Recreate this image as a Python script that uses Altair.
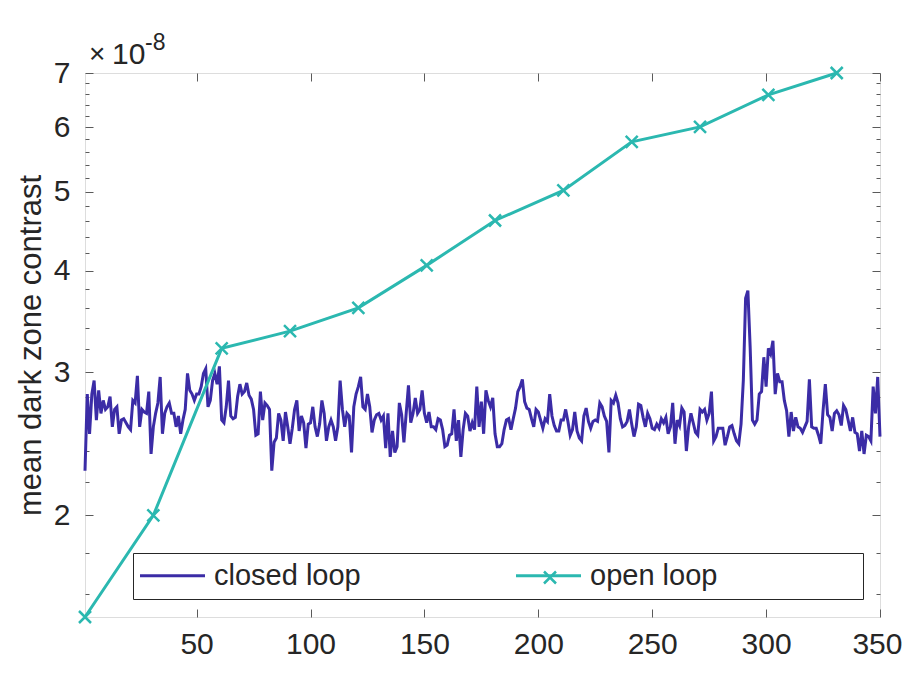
import altair as alt
import pandas as pd

# ---- data (values in units of 1e-8) ----
closed_loop = [
    # 1-60
    2.27, 2.82, 2.52, 2.82, 2.93, 2.62, 2.85, 2.67, 2.77, 2.70,
    2.72, 2.80, 2.57, 2.70, 2.72, 2.52, 2.62, 2.63, 2.60, 2.57,
    2.55, 2.77, 2.75, 2.97, 2.57, 2.70, 2.68, 2.67, 2.84, 2.38,
    2.57, 2.67, 2.75, 2.96, 2.52, 2.67, 2.72, 2.75, 2.67, 2.67,
    2.57, 2.65, 2.52, 2.62, 2.70, 2.99, 2.85, 2.82, 2.77, 2.82,
    2.82, 2.88, 2.99, 3.03, 2.72, 2.77, 2.93, 2.99, 2.90, 3.05,
    # 61-120
    2.62, 2.60, 2.72, 2.93, 2.65, 2.63, 2.64, 2.80, 2.90, 2.82,
    2.84, 2.91, 2.81, 2.78, 2.70, 2.51, 2.52, 2.84, 2.62, 2.75,
    2.73, 2.70, 2.27, 2.46, 2.49, 2.67, 2.62, 2.47, 2.68, 2.57,
    2.45, 2.56, 2.70, 2.77, 2.54, 2.65, 2.60, 2.42, 2.59, 2.60,
    2.72, 2.57, 2.50, 2.59, 2.77, 2.67, 2.47, 2.57, 2.62, 2.57,
    2.47, 2.57, 2.93, 2.70, 2.57, 2.67, 2.65, 2.39, 2.72, 2.82,
    # 121-180
    2.88, 2.96, 2.72, 2.70, 2.82, 2.72, 2.53, 2.62, 2.66, 2.67,
    2.62, 2.65, 2.42, 2.67, 2.36, 2.54, 2.39, 2.43, 2.75, 2.66,
    2.46, 2.67, 2.89, 2.60, 2.67, 2.79, 2.67, 2.70, 2.85, 2.67,
    2.60, 2.68, 2.57, 2.57, 2.55, 2.63, 2.62, 2.55, 2.43, 2.44,
    2.51, 2.52, 2.70, 2.47, 2.62, 2.36, 2.55, 2.67, 2.65, 2.54,
    2.60, 2.55, 2.88, 2.57, 2.76, 2.52, 2.85, 2.77, 2.72, 2.79,
    # 181-240
    2.52, 2.43, 2.43, 2.45, 2.55, 2.62, 2.63, 2.55, 2.63, 2.71,
    2.84, 2.88, 2.94, 2.76, 2.71, 2.70, 2.63, 2.57, 2.70, 2.68,
    2.62, 2.56, 2.63, 2.61, 2.82, 2.65, 2.58, 2.54, 2.54, 2.62,
    2.62, 2.70, 2.61, 2.51, 2.55, 2.68, 2.54, 2.49, 2.47, 2.65,
    2.71, 2.61, 2.56, 2.61, 2.62, 2.61, 2.75, 2.72, 2.65, 2.61,
    2.39, 2.77, 2.75, 2.81, 2.75, 2.63, 2.57, 2.58, 2.61, 2.70,
    # 241-299
    2.59, 2.50, 2.57, 2.74, 2.73, 2.64, 2.57, 2.67, 2.63, 2.56,
    2.55, 2.59, 2.56, 2.63, 2.60, 2.64, 2.52, 2.57, 2.75, 2.45,
    2.62, 2.58, 2.71, 2.68, 2.40, 2.57, 2.67, 2.60, 2.53, 2.51,
    2.70, 2.68, 2.70, 2.62, 2.67, 2.84, 2.47, 2.50, 2.56, 2.56,
    2.56, 2.44, 2.50, 2.57, 2.58, 2.52, 2.47, 2.45, 2.59, 2.93,
    3.70, 3.78, 3.22, 2.62, 2.59, 2.62, 2.82, 2.84, 3.13,
    # 300-350
    2.88, 3.21, 3.16, 3.28, 2.82, 2.99, 2.92, 2.92, 2.77, 2.69,
    2.50, 2.68, 2.54, 2.64, 2.57, 2.56, 2.53, 2.57, 2.61, 2.94,
    2.57, 2.56, 2.56, 2.51, 2.45, 2.69, 2.90, 2.66, 2.64, 2.54,
    2.67, 2.69, 2.66, 2.58, 2.73, 2.70, 2.62, 2.54, 2.64, 2.53,
    2.52, 2.40, 2.54, 2.38, 2.51, 2.50, 2.47, 2.88, 2.67, 2.96,
    2.50,
]
open_x = [1, 31, 61, 91, 121, 151, 181, 211, 241, 271, 301, 331]
open_y = [1.50, 2.00, 3.21, 3.37, 3.60, 4.06, 4.61, 5.02, 5.76, 6.01, 6.58, 7.00]

series_names = ["closed loop", "open loop"]
series_colors = ["#3B2CA6", "#2BB8B0"]
x_ticks = [50, 100, 150, 200, 250, 300, 350]
y_major = [2, 3, 4, 5, 6, 7]
y_minor = [1.6, 1.8, 2.2, 2.4, 2.6, 2.8, 3.2, 3.4, 3.6, 3.8,
           4.2, 4.4, 4.6, 4.8, 5.2, 5.4, 5.6, 5.8, 6.2, 6.4, 6.6, 6.8]
y_title = "mean dark zone contrast"
exp_times = "\u00d7"
exp_base = "10"
exp_power = "-8"

# ---- tables ----
lines_df = pd.concat([
    pd.DataFrame({"x": list(range(1, len(closed_loop) + 1)), "y": closed_loop,
                  "series": series_names[0]}),
    pd.DataFrame({"x": open_x, "y": open_y, "series": series_names[1]}),
], ignore_index=True)
points_df = pd.DataFrame({"x": open_x, "y": open_y, "marker": "x"})
label_df = pd.DataFrame({"a": [0]})

FONT = "Liberation Sans"
TXT = "#262626"
AX = "#5a5a5a"
FS = 30

xscale = alt.Scale(domain=[1, 350], nice=False, zero=False)
yscale = alt.Scale(type="log", domain=[1.5, 7.0], nice=False)
color_scale = alt.Scale(domain=series_names, range=series_colors)

x_bottom = alt.Axis(orient="bottom", values=x_ticks, offset=-8, tickSize=8, domain=False,
                    grid=False, labelPadding=12, labelFontSize=FS, labelFont=FONT,
                    labelColor=TXT, tickColor=AX, title=None, labelFlush=1,
                    labelFlushOffset=22, labelOverlap=False, labelBound=False)
y_left = alt.Axis(orient="left", values=y_major, offset=-8, tickSize=8, domain=False,
                  grid=False, labelPadding=15, labelFontSize=FS, labelFont=FONT,
                  labelColor=TXT, tickColor=AX, format="d", labelOverlap=False,
                  title=y_title, titleFont=FONT, titleFontSize=31, titleFontWeight="normal",
                  titleColor=TXT, titlePadding=6)
x_top = alt.Axis(orient="top", values=x_ticks, offset=-8, tickSize=8, domain=False,
                 grid=False, labels=False, tickColor=AX, title=None)
y_right = alt.Axis(orient="right", values=y_major, offset=-8, tickSize=8, domain=False,
                   grid=False, labels=False, tickColor=AX, title=None)
y_left_minor = alt.Axis(orient="left", values=y_minor, offset=-4, tickSize=4, domain=False,
                        grid=False, labels=False, tickColor=AX, title=None)
y_right_minor = alt.Axis(orient="right", values=y_minor, offset=-4, tickSize=4, domain=False,
                         grid=False, labels=False, tickColor=AX, title=None)

# trailing no-break spaces widen the legend box; the zero-width space keeps them from being trimmed
open_label = "open loop" + "\u00a0" * 17 + "\u200b"
legend_lines = alt.Legend(
    orient="none", legendX=48, legendY=480, direction="horizontal", columns=2,
    title=None, padding=8, fillColor="white", strokeColor=TXT,
    labelFont=FONT, labelFontSize=29, labelColor=TXT, columnPadding=149,
    labelLimit=500,
    symbolType="M-6.5,0H6.5", symbolSize=100, symbolStrokeWidth=3,
    symbolOffset=17, labelOffset=27,
    labelExpr="datum.label == 'open loop' ? '" + open_label + "' : datum.label",
)

xpath = "M-1,-1L1,1M-1,1L1,-1"
legend_marker = alt.Legend(
    orient="none", legendX=450.5, legendY=490, title=None, padding=0,
    labelExpr="''", labelFontSize=29, symbolSize=144, symbolStrokeWidth=2.5,
    symbolStrokeColor=series_colors[1], symbolFillColor="transparent",
)

lines = alt.Chart(lines_df).mark_line(strokeWidth=3, clip=False).encode(
    x=alt.X("x:Q", scale=xscale, axis=x_bottom),
    y=alt.Y("y:Q", scale=yscale, axis=y_left),
    color=alt.Color("series:N", scale=color_scale, legend=legend_lines),
    order=alt.Order("x:Q"),
)

points = alt.Chart(points_df).mark_point(filled=False, strokeWidth=2.5, size=144,
                                         opacity=1, color=series_colors[1]).encode(
    x=alt.X("x:Q", scale=xscale, axis=x_top),
    y=alt.Y("y:Q", scale=yscale, axis=y_right),
    shape=alt.Shape("marker:N", scale=alt.Scale(domain=["x"], range=[xpath]),
                    legend=legend_marker),
)

minor_left = alt.Chart(points_df).mark_point(opacity=0).encode(
    x=alt.X("x:Q", scale=xscale, axis=None),
    y=alt.Y("y:Q", scale=yscale, axis=y_left_minor),
)
minor_right = alt.Chart(points_df).mark_point(opacity=0).encode(
    x=alt.X("x:Q", scale=xscale, axis=None),
    y=alt.Y("y:Q", scale=yscale, axis=y_right_minor),
)

times_txt = alt.Chart(label_df).mark_text(align="left", baseline="alphabetic", font=FONT,
                                          fontSize=28, color=TXT).encode(
    x=alt.value(4), y=alt.value(-10), text=alt.value(exp_times))
base_txt = alt.Chart(label_df).mark_text(align="left", baseline="alphabetic", font=FONT,
                                         fontSize=30, color=TXT).encode(
    x=alt.value(27), y=alt.value(-9), text=alt.value(exp_base))
pow_txt = alt.Chart(label_df).mark_text(align="left", baseline="alphabetic", font=FONT,
                                        fontSize=23, color=TXT).encode(
    x=alt.value(60), y=alt.value(-23), text=alt.value(exp_power))

chart = alt.layer(lines, points, minor_left, minor_right, times_txt, base_txt,
                  pow_txt).resolve_axis(
    x="independent", y="independent"
).properties(
    width=795, height=544,
    autosize=alt.AutoSizeParams(type="none"),
    padding={"left": 77, "top": 65, "right": 22, "bottom": 53},
).configure_view(stroke=AX, strokeWidth=1).configure(background="white")

chart.save("out.html", embed_options={"renderer": "svg", "actions": False})
